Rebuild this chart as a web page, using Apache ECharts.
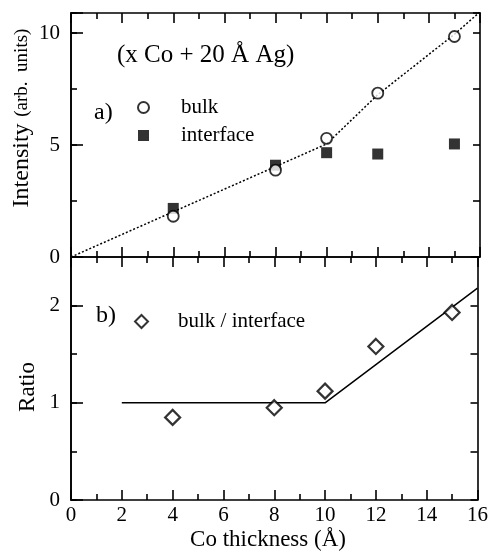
<!DOCTYPE html>
<html>
<head>
<meta charset="utf-8">
<script src="https://cdn.jsdelivr.net/npm/echarts@6/dist/echarts.min.js"></script>
<style>html,body{margin:0;padding:0;background:#fff;}#c{width:491px;height:559px;}</style>
</head>
<body>
<div id="c"></div>
<script>
// ---- data ----
const bulkX = [4, 8, 10, 12, 15];
const bulkY = [1.82, 3.88, 5.3, 7.32, 9.85];
const interfaceX = [4, 8, 10, 12, 15];
const interfaceY = [2.17, 4.1, 4.66, 4.6, 5.05];
const guideAX = [0, 10, 12, 15, 16];
const guideAY = [0, 5.05, 7.25, 9.95, 10.95];
const ratioX = [4, 8, 10, 12, 15];
const ratioY = [0.85, 0.95, 1.12, 1.58, 1.93];
const guideBX = [2, 10, 16];
const guideBY = [1, 1, 2.18];

const zip = (a, b) => a.map((v, i) => [v, b[i]]);
const FONT = '"Liberation Serif", "DejaVu Serif", serif';
const black = '#000';

function makeOption(f) {
  const LF = f.smallFont ? 17 : 21;
  const mkLine = () => ({show: true, onZero: false, lineStyle: {color: black, width: 1.6}});
  const xAx = (grid, pos, labels) => ({
    type: 'value', gridIndex: grid, position: pos, min: 0, max: 16, interval: 2,
    axisLine: mkLine(),
    axisTick: {show: true, inside: true, length: 10, lineStyle: {color: black, width: 1.6}},
    minorTick: {show: true, splitNumber: 2, length: 6, lineStyle: {color: black, width: 1.6}},
    axisLabel: {show: labels, color: black, fontFamily: FONT, fontSize: LF, margin: 5},
    splitLine: {show: false}, minorSplitLine: {show: false}
  });
  const yAx = (grid, pos, max, interval, len, labels, step) => ({
    type: 'value', gridIndex: grid, position: pos, min: 0, max: max, interval: interval,
    axisLine: mkLine(),
    axisTick: {show: true, inside: true, length: len, lineStyle: {color: black, width: 1.6}},
    axisLabel: {show: labels, color: black, fontFamily: FONT, fontSize: LF, margin: 11,
      formatter: v => (Math.abs(v / step - Math.round(v / step)) < 1e-6 ? String(v) : '')},
    splitLine: {show: false}
  });
  const yRich = {a: {fontFamily: FONT, fontSize: 24, color: black, fill: black},
                 b: {fontFamily: FONT, fontSize: 19, color: black, fill: black}};
  const opt = {
    animation: false,
    backgroundColor: '#fff',
    grid: [
      {left: 71, top: 13, width: 409, height: 244},
      {left: 71, top: 257, width: 409, height: 243}
    ],
    xAxis: [xAx(0, 'bottom', false), xAx(0, 'top', false), xAx(1, 'bottom', true), xAx(1, 'top', false)],
    yAxis: [
      yAx(0, 'left', 10.9, 5, 12, true, 5),
      yAx(0, 'left', 10.9, 2.5, 6, false, 5),
      yAx(0, 'right', 10.9, 2.5, 7, false, 5),
      yAx(1, 'left', 2.5, 1, 12, true, 1),
      yAx(1, 'left', 2.5, 0.5, 6, false, 1),
      yAx(1, 'right', 2.5, 0.5, 7, false, 1)
    ],
    series: [
      {type: 'line', name: 'fitA', xAxisIndex: 0, yAxisIndex: 0, data: zip(guideAX, guideAY), symbol: 'none',
        clip: true, lineStyle: {color: black, width: 1.5, type: [2, 2]}, silent: true, z: 1},
      {type: 'scatter', name: 'bulk', xAxisIndex: 0, yAxisIndex: 0, data: zip(bulkX, bulkY), symbol: 'circle',
        symbolSize: 11, itemStyle: {color: '#fff', borderColor: black, borderWidth: 1.8}, z: 3},
      {type: 'scatter', name: 'interface', xAxisIndex: 0, yAxisIndex: 0, data: zip(interfaceX, interfaceY), symbol: 'rect',
        symbolSize: 11, itemStyle: {color: black}, z: 2},
      {type: 'line', name: 'fitB', xAxisIndex: 2, yAxisIndex: 3, data: zip(guideBX, guideBY), symbol: 'none',
        clip: true, lineStyle: {color: black, width: 1.5}, silent: true, z: 1},
      {type: 'scatter', name: 'bulk / interface', xAxisIndex: 2, yAxisIndex: 3, data: zip(ratioX, ratioY), symbol: 'diamond',
        symbolSize: 15, itemStyle: {color: '#fff', borderColor: black, borderWidth: 2.2}, z: 3}
    ]
  };
  if (!f.noLegend) {
    opt.legend = [
      {left: 132, top: 92, orient: 'vertical', itemGap: 7, itemWidth: 11, itemHeight: 11, selectedMode: false,
        data: ['bulk', 'interface'],
        textStyle: {color: black, fontFamily: FONT, fontSize: 21, padding: [0, 0, 0, 27]}},
      {left: 129, top: 306, orient: 'vertical', itemWidth: 13, itemHeight: 13, selectedMode: false,
        data: ['bulk / interface'],
        textStyle: {color: black, fontFamily: FONT, fontSize: 21, padding: [0, 0, 0, 25]}}
    ];
  }
  if (!f.noGraphic) {
    opt.graphic = [
      {type: 'text', left: 117, top: 43, style: {text: '(x Co + 20 Å Ag)', font: '25px ' + FONT, fill: black}},
      {type: 'text', left: 94, top: 101, style: {text: 'a)', font: '24px ' + FONT, fill: black}},
      {type: 'text', left: 96, top: 304, style: {text: 'b)', font: '24px ' + FONT, fill: black}},
      {type: 'text', x: 22, y: 118, rotation: Math.PI / 2,
        style: {text: '{a|Intensity}  {b|(arb.  units)}', align: 'center', verticalAlign: 'middle', fill: black, rich: yRich}},
      {type: 'text', x: 28, y: 387, rotation: Math.PI / 2,
        style: {text: 'Ratio', align: 'center', verticalAlign: 'middle', font: '23px ' + FONT, fill: black}},
      {type: 'text', x: 268, y: 540,
        style: {text: 'Co thickness (Å)', align: 'center', verticalAlign: 'middle', font: '23px ' + FONT, fill: black}}
    ];
    if (f.noLegend) {
      opt.graphic.push(
        {type: 'circle', shape: {cx: 143, cy: 103, r: 5}, style: {fill: '#fff', stroke: black, lineWidth: 1.8}},
        {type: 'rect', shape: {x: 138, y: 125, width: 11, height: 11}, style: {fill: black}},
        {type: 'polygon', shape: {points: [[141, 310], [148, 317], [141, 324], [134, 317]]}, style: {fill: '#fff', stroke: black, lineWidth: 2}},
        {type: 'text', left: 180, top: 92, style: {text: 'bulk', font: '21px ' + FONT, fill: black}},
        {type: 'text', left: 180, top: 120, style: {text: 'interface', font: '21px ' + FONT, fill: black}},
        {type: 'text', left: 178, top: 306, style: {text: 'bulk / interface', font: '21px ' + FONT, fill: black}}
      );
    }
  } else {
    const ts = s => ({color: black, fontFamily: FONT, fontSize: s, fontWeight: 'normal'});
    opt.title = [
      {text: '(x Co + 20 Å Ag)', left: 117, top: 43, padding: 0, textStyle: ts(25)},
      {text: 'a)', left: 94, top: 101, padding: 0, textStyle: ts(24)},
      {text: 'b)', left: 96, top: 304, padding: 0, textStyle: ts(24)}
    ];
    opt.yAxis[0].name = '{a|Intensity}  {b|(arb.  units)}';
    opt.yAxis[0].nameLocation = 'middle';
    opt.yAxis[0].nameGap = 38;
    opt.yAxis[0].nameTextStyle = {rich: yRich};
    opt.yAxis[3].name = 'Ratio';
    opt.yAxis[3].nameLocation = 'middle';
    opt.yAxis[3].nameGap = 32;
    opt.yAxis[3].nameTextStyle = {color: black, fontFamily: FONT, fontSize: 23};
    opt.xAxis[2].name = 'Co thickness (Å)';
    opt.xAxis[2].nameLocation = 'middle';
    opt.xAxis[2].nameGap = 28;
    opt.xAxis[2].nameTextStyle = {color: black, fontFamily: FONT, fontSize: 23};
  }
  return opt;
}

const chart = echarts.init(document.getElementById('c'));

function countTicks() {
  try {
    const list = chart.getZr().storage.getDisplayList(true);
    let n = 0;
    list.forEach(el => {
      const s = el.shape;
      if (s && s.x1 != null && s.x2 != null && !el.invisible && !el.ignore) {
        const len = Math.hypot(s.x2 - s.x1, s.y2 - s.y1);
        if (len > 3 && len < 15) n++;
      }
    });
    return n;
  } catch (e) {
    return 999;
  }
}

const variants = [
  {},
  {smallFont: true},
  {noLegend: true},
  {noGraphic: true},
  {smallFont: true, noLegend: true},
  {smallFont: true, noGraphic: true},
  {noLegend: true, noGraphic: true},
  {smallFont: true, noLegend: true, noGraphic: true}
];
for (let i = 0; i < variants.length; i++) {
  chart.setOption(makeOption(variants[i]), true);
  if (countTicks() >= 40) break;
}
</script>
</body>
</html>
